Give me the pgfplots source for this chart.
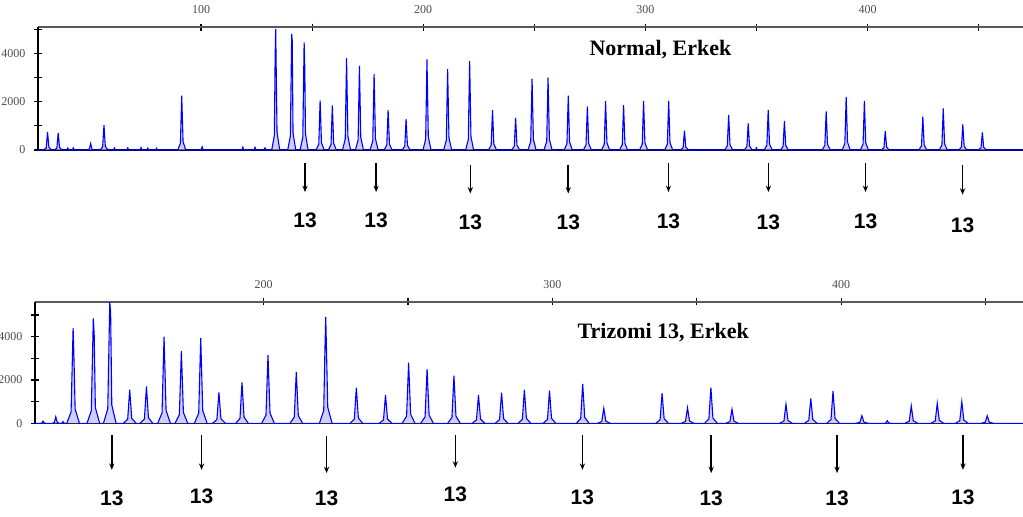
\documentclass[border=0pt]{standalone}
\usepackage{fontspec}
\setmainfont{Liberation Serif}
\newfontfamily\labfont{Liberation Sans}
\usepackage{pgfplots}
\pgfplotsset{compat=1.18}
\usetikzlibrary{arrows.meta}
\definecolor{peakblue}{RGB}{0,0,255}
\definecolor{peakfill}{RGB}{170,175,255}
\definecolor{topline}{RGB}{90,90,90}
\pgfplotsset{
  gel/.style={
    scale only axis, clip=false,
    axis x line*=top, axis y line*=left,
    x axis line style={-, topline, line width=1pt},
    y axis line style={-, black, line width=0.6pt},
    tick align=center,
    major tick length=3.5pt, minor tick length=3.5pt,
    every tick/.style={black, line width=0.6pt},
    /pgf/number format/assume math mode=true,
    /pgf/number format/1000 sep={},
    ticklabel style={font=\fontsize{6}{7}\selectfont, text=black!70},
    ytick={0,2000,4000}, minor ytick={1000,3000,5000},
    xtick pos=right,
    yticklabel style={xshift=-1pt},
    xticklabel style={yshift=1.5pt},
  },
  peaks/.style={peakblue, line width=0.55pt, fill=peakfill, fill opacity=0.6, draw opacity=1},
}
\newcommand{\arr}[3]{% x, y1, y2
  \draw[-{Stealth[length=3.2pt,width=2.6pt]}, line width=0.8pt, black] (axis cs:#1,#2) -- (axis cs:#1,#3);}
\newcommand{\thirteen}[2]{\node[font=\labfont\bfseries\fontsize{10.5}{12}\selectfont] at (axis cs:#1,#2) {13};}
\begin{document}
\begin{tikzpicture}[x=1pt,y=1pt]
\useasboundingbox (0,0) rectangle (511.5,258);
% ---------------- top panel ----------------
\begin{axis}[gel,
  at={(19pt,183pt)}, anchor=south west,
  width=492.5pt, height=61.5pt,
  xmin=26.6, xmax=470, ymin=0, ymax=5090,
  xtick={100,200,300,400}, minor xtick={150,250,350,450},
]
\draw[black, line width=0.8pt] (rel axis cs:0,0) -- (rel axis cs:1,0);
\addplot[peaks] coordinates {
(26.6,0)
(29.1,0) (30.3,90) (30.9,750) (31.5,112) (32.7,0)
(34.0,0) (35.1,84) (35.7,700) (36.3,105) (37.5,0)
(39.0,0) (39.6,10) (40.0,80) (40.4,12) (41.0,0)
(41.5,0) (42.1,11) (42.5,90) (42.9,13) (43.5,0)
(48.8,0) (49.7,32) (50.3,270) (50.9,40) (51.8,0)
(54.5,0) (55.7,124) (56.3,1030) (56.9,155) (58.1,0)
(60.0,0) (60.6,10) (61.0,80) (61.4,12) (62.0,0)
(66.0,0) (66.6,11) (67.0,90) (67.4,13) (68.0,0)
(72.0,0) (72.6,12) (73.0,100) (73.4,15) (74.0,0)
(75.0,0) (75.6,10) (76.0,80) (76.4,12) (77.0,0)
(79.0,0) (79.6,8) (80.0,70) (80.4,10) (81.0,0)
(89.5,0) (90.7,270) (91.3,2250) (91.9,338) (93.1,0)
(99.5,0) (100.1,16) (100.5,130) (100.9,20) (101.5,0)
(117.8,0) (118.4,14) (118.8,120) (119.2,18) (119.8,0)
(123.3,0) (123.9,13) (124.3,110) (124.7,16) (125.3,0)
(127.8,0) (128.4,11) (128.8,90) (129.2,14) (129.8,0)
(131.8,0) (133.0,600) (133.35,3850) (133.6,5000) (134.2,750) (135.4,0)
(139.0,0) (140.2,576) (140.8,4800) (141.05,4500) (141.4,720) (142.6,0)
(144.6,0) (145.8,534) (146.4,4450) (146.7,3400) (147.0,668) (148.2,0)
(151.8,0) (153.0,246) (153.6,2050) (154.2,308) (155.4,0)
(157.3,0) (158.5,222) (159.1,1850) (159.7,278) (160.9,0)
(163.7,0) (164.9,456) (165.5,3800) (166.1,570) (167.3,0)
(169.5,0) (170.7,418) (171.3,3480) (171.9,522) (173.1,0)
(176.1,0) (177.3,378) (177.9,3150) (178.5,473) (179.7,0)
(182.4,0) (183.6,198) (184.2,1650) (184.8,248) (186.0,0)
(190.5,0) (191.7,154) (192.3,1280) (192.9,192) (194.1,0)
(199.9,0) (201.1,450) (201.7,3750) (202.3,563) (203.5,0)
(209.2,0) (210.4,402) (211.0,3350) (211.6,503) (212.8,0)
(219.1,0) (220.3,442) (220.9,3680) (221.5,552) (222.7,0)
(229.4,0) (230.6,198) (231.2,1650) (231.8,248) (233.0,0)
(239.8,0) (241.0,160) (241.6,1330) (242.2,200) (243.4,0)
(247.2,0) (248.4,354) (249.0,2950) (249.6,443) (250.8,0)
(254.4,0) (255.6,360) (256.2,3000) (256.8,450) (258.0,0)
(263.5,0) (264.7,270) (265.3,2250) (265.9,338) (267.1,0)
(272.1,0) (273.3,216) (273.9,1800) (274.5,270) (275.7,0)
(280.3,0) (281.5,242) (282.1,2020) (282.7,303) (283.9,0)
(288.4,0) (289.6,223) (290.2,1860) (290.8,279) (292.0,0)
(297.4,0) (298.6,244) (299.2,2030) (299.8,305) (301.0,0)
(308.7,0) (309.9,244) (310.5,2030) (311.1,305) (312.3,0)
(315.8,0) (317.0,96) (317.6,800) (318.2,120) (319.4,0)
(335.7,0) (336.9,174) (337.5,1450) (338.1,218) (339.3,0)
(344.5,0) (345.7,132) (346.3,1100) (346.9,165) (348.1,0)
(349.2,0) (349.6,11) (350.0,90) (350.4,14) (350.8,0)
(353.5,0) (354.7,198) (355.3,1650) (355.9,248) (357.1,0)
(360.8,0) (362.0,144) (362.6,1200) (363.2,180) (364.4,0)
(379.6,0) (380.8,192) (381.4,1600) (382.0,240) (383.2,0)
(388.6,0) (389.8,264) (390.4,2200) (391.0,330) (392.2,0)
(396.8,0) (398.0,244) (398.6,2030) (399.2,305) (400.4,0)
(406.2,0) (407.4,94) (408.0,780) (408.6,117) (409.8,0)
(423.1,0) (424.3,166) (424.9,1380) (425.5,207) (426.7,0)
(432.3,0) (433.5,206) (434.1,1720) (434.7,258) (435.9,0)
(441.1,0) (442.3,127) (442.9,1060) (443.5,159) (444.7,0)
(449.9,0) (451.1,88) (451.7,730) (452.3,110) (453.5,0)
(470,0)
};
\node[font=\bfseries\fontsize{11}{13}\selectfont] at (axis cs:306.8,4140) {Normal, Erkek};
\arr{146.8}{-540}{-1740} \thirteen{146.8}{-2900}
\arr{178.8}{-540}{-1740} \thirteen{178.8}{-2900}
\arr{221.2}{-600}{-1800} \thirteen{221.2}{-3000}
\arr{265.3}{-600}{-1800} \thirteen{265.3}{-3000}
\arr{310.4}{-540}{-1740} \thirteen{310.4}{-2950}
\arr{355.4}{-540}{-1740} \thirteen{355.4}{-3000}
\arr{399.1}{-540}{-1740} \thirteen{399.1}{-2950}
\arr{442.8}{-600}{-1850} \thirteen{442.8}{-3100}
\end{axis}
% ---------------- bottom panel ----------------
\begin{axis}[gel,
  at={(17.5pt,46.35pt)}, anchor=south west,
  width=494pt, height=60.8pt,
  xmin=120.8, xmax=463, ymin=0, ymax=5617,
  xtick={200,300,400}, minor xtick={250,350,450},
]
\draw[black, line width=0.8pt] (rel axis cs:0,0) -- (rel axis cs:1,0);
\addplot[peaks] coordinates {
(120.8,0)
(122.6,0) (123.2,12) (123.6,100) (124.0,15) (124.6,0)
(126.8,0) (127.5,36) (128.0,300) (128.5,45) (129.2,0)
(129.7,0) (130.2,10) (130.5,80) (130.8,12) (131.3,0)
(131.8,0) (133.3,528) (134.0,4400) (134.3,3000) (134.7,660) (136.2,0)
(138.8,0) (140.3,582) (141.0,4850) (141.3,4100) (141.7,728) (143.2,0)
(144.5,0) (146.0,672) (146.7,5600) (147.0,5100) (147.4,840) (148.9,0)
(151.4,0) (152.9,186) (153.6,1550) (154.3,233) (155.8,0)
(157.2,0) (158.7,204) (159.4,1700) (160.1,255) (161.6,0)
(163.3,0) (164.8,480) (165.5,4000) (166.2,600) (167.7,0)
(169.3,0) (170.8,401) (171.5,3340) (172.2,501) (173.7,0)
(176.0,0) (177.5,472) (178.2,3930) (178.9,590) (180.4,0)
(182.3,0) (183.8,172) (184.5,1430) (185.2,215) (186.7,0)
(190.3,0) (191.8,227) (192.5,1890) (193.2,284) (194.7,0)
(199.3,0) (200.8,378) (201.5,3150) (202.2,473) (203.7,0)
(209.1,0) (210.6,286) (211.3,2380) (212.0,357) (213.5,0)
(219.3,0) (220.8,590) (221.2,3300) (221.5,4920) (222.2,738) (223.7,0)
(229.9,0) (231.4,198) (232.1,1650) (232.8,248) (234.3,0)
(240.0,0) (241.5,157) (242.2,1310) (242.9,197) (244.4,0)
(248.0,0) (249.5,336) (250.2,2800) (250.9,420) (252.4,0)
(254.4,0) (255.9,300) (256.6,2500) (257.3,375) (258.8,0)
(263.7,0) (265.2,264) (265.9,2200) (266.6,330) (268.1,0)
(272.2,0) (273.7,157) (274.4,1310) (275.1,197) (276.6,0)
(280.2,0) (281.7,170) (282.4,1420) (283.1,213) (284.6,0)
(288.1,0) (289.6,185) (290.3,1540) (291.0,231) (292.5,0)
(296.8,0) (298.3,181) (299.0,1510) (299.7,227) (301.2,0)
(308.3,0) (309.8,218) (310.5,1820) (311.2,273) (312.7,0)
(315.6,0) (317.1,83) (317.8,690) (318.5,104) (320.0,0)
(335.8,0) (337.3,167) (338.0,1390) (338.7,209) (340.2,0)
(344.6,0) (346.1,86) (346.8,720) (347.5,108) (349.0,0)
(352.7,0) (354.2,198) (354.9,1650) (355.6,248) (357.1,0)
(360.0,0) (361.5,78) (362.2,650) (362.9,98) (364.4,0)
(378.7,0) (380.2,106) (380.9,880) (381.6,132) (383.1,0)
(387.3,0) (388.8,138) (389.5,1150) (390.2,173) (391.7,0)
(395.0,0) (396.5,179) (397.2,1490) (397.9,224) (399.4,0)
(405.0,0) (406.5,42) (407.2,350) (407.9,53) (409.4,0)
(414.8,0) (415.5,14) (416.0,120) (416.5,18) (417.2,0)
(422.1,0) (423.6,96) (424.3,800) (425.0,120) (426.5,0)
(431.1,0) (432.6,110) (433.3,920) (434.0,138) (435.5,0)
(439.6,0) (441.1,120) (441.8,1000) (442.5,150) (444.0,0)
(448.4,0) (449.9,42) (450.6,350) (451.3,53) (452.8,0)
(463,0)
};
\node[font=\bfseries\fontsize{11}{13}\selectfont] at (axis cs:338.4,4170) {Trizomi 13, Erkek};
\arr{147.4}{-540}{-2150} \thirteen{147.4}{-3450}
\arr{178.5}{-540}{-2150} \thirteen{178.5}{-3350}
\arr{221.8}{-600}{-2300} \thirteen{221.8}{-3450}
\arr{266.4}{-540}{-2050} \thirteen{266.4}{-3300}
\arr{310.4}{-540}{-2150} \thirteen{310.4}{-3400}
\arr{355.0}{-540}{-2300} \thirteen{355.0}{-3450}
\arr{398.6}{-540}{-2300} \thirteen{398.6}{-3450}
\arr{442.2}{-540}{-2150} \thirteen{442.2}{-3400}
\end{axis}
\end{tikzpicture}
\end{document}
